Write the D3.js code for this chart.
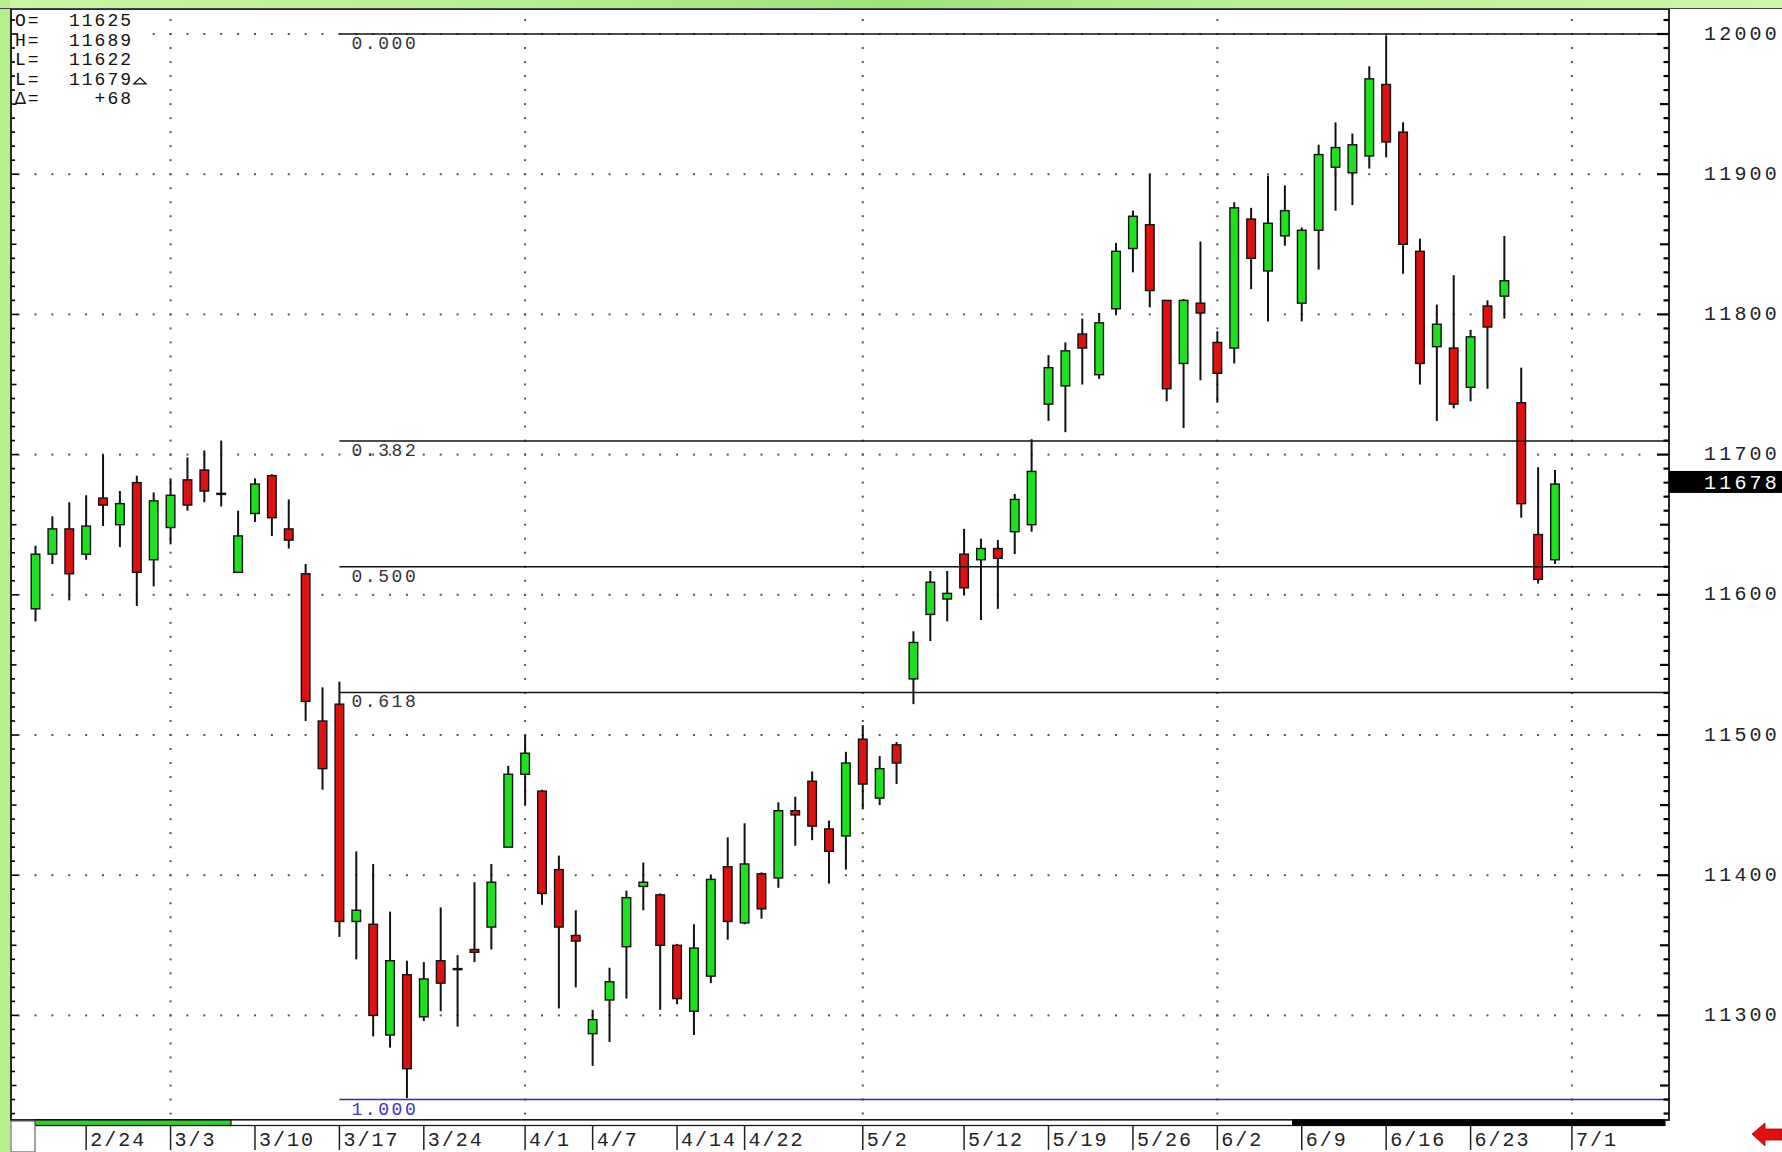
<!DOCTYPE html>
<html><head><meta charset="utf-8">
<script src="https://cdn.jsdelivr.net/npm/d3@7"></script>
<style>
body{margin:0;background:#fff;}
svg{display:block;}
text{font-family:"Liberation Mono","DejaVu Sans Mono",monospace;}
</style>
</head><body>
<svg id="c" width="1782" height="1152"></svg>
<script>
// ---------- data ----------
const opens  = [11590,11629,11647,11629,11669,11650,11680,11625,11648,11682,11689,11672,11616,11658,11685,11647,11615,11510,11522,11367,
                11365,11286,11329,11299,11339,11333,11347,11363,11420,11472,11460,11404,11357,11287,11311,11349,11392,11386,11350,11303,
                11328,11406,11366,11401,11398,11446,11467,11433,11428,11497,11455,11493,11540,11586,11597,11629,11625,11633,11645,11650,
                11736,11749,11786,11757,11804,11847,11864,11810,11765,11808,11780,11776,11868,11831,11856,11808,11860,11905,11901,11913,
                11964,11930,11845,11777,11776,11748,11806,11813,11737,11643,11625];
const highs  = [11635,11656,11666,11671,11700,11674,11685,11673,11683,11698,11703,11710,11660,11683,11686,11668,11622,11534,11538,11417,
                11408,11374,11339,11338,11377,11343,11395,11408,11478,11500,11461,11414,11375,11304,11334,11389,11409,11387,11351,11365,
                11400,11427,11437,11402,11452,11456,11474,11439,11488,11507,11485,11495,11574,11617,11617,11647,11640,11639,11672,11711,
                11771,11780,11797,11801,11851,11874,11900,11810,11811,11852,11788,11880,11876,11899,11892,11862,11921,11937,11929,11977,
                11999,11937,11854,11807,11828,11789,11810,11856,11762,11691,11689];
const lows   = [11581,11622,11596,11625,11649,11634,11592,11606,11636,11660,11666,11663,11616,11652,11642,11633,11510,11461,11356,11340,
                11285,11277,11241,11296,11303,11292,11338,11347,11420,11450,11379,11305,11320,11264,11281,11312,11375,11304,11308,11286,
                11323,11354,11365,11369,11391,11421,11425,11394,11404,11447,11450,11465,11522,11567,11581,11600,11582,11590,11629,11645,
                11724,11716,11750,11754,11800,11830,11805,11738,11719,11753,11737,11765,11818,11795,11849,11795,11832,11874,11878,11904,
                11912,11829,11750,11724,11733,11738,11747,11797,11655,11608,11622];
const closes = [11629,11647,11615,11649,11664,11665,11616,11667,11671,11664,11674,11672,11642,11679,11655,11639,11524,11476,11367,11375,
                11300,11339,11262,11326,11323,11333,11345,11395,11472,11487,11387,11363,11353,11297,11324,11384,11395,11350,11312,11348,
                11397,11367,11408,11376,11446,11443,11435,11417,11480,11465,11476,11480,11566,11609,11601,11605,11633,11626,11668,11688,
                11762,11774,11776,11794,11845,11870,11817,11747,11810,11801,11758,11876,11840,11865,11874,11860,11914,11919,11921,11968,
                11923,11850,11765,11793,11736,11784,11791,11824,11665,11611,11679];

const dateLabels = ["2/24","3/3","3/10","3/17","3/24","4/1","4/7","4/14","4/22","5/2","5/12","5/19","5/26","6/2","6/9","6/16","6/23","7/1"];
const dateIdx    = [3,8,13,18,23,29,33,38,42,49,55,60,65,70,75,80,85,91];
const monthIdx   = [8,29,49,70,91];
const yTicks     = [11300,11400,11500,11600,11700,11800,11900,12000];
const fibLevels  = [0,0.382,0.5,0.618,1];
const fibLabels  = ["0.000","0.382","0.500","0.618","1.000"];
const fibHigh = 12000, fibLow = 11240, fibStartIdx = 18;
const infoKeys   = ["O=","H=","L=","L=","\u0394="];
const infoVals   = ["11625","11689","11622","11679","+68"];
const lastPrice  = 11678;

// ---------- layout ----------
const W = 1782, H = 1152;
const L = 11, R = 1669, T = 9, B = 1120;
const svg = d3.select("#c");
const x = d3.scaleLinear().domain([0, 90]).range([35.5, 1555]);
const y = d3.scaleLinear().domain([11300, 12000]).range([1015.4, 34]);

const defs = svg.append("defs");
const g1 = defs.append("linearGradient").attr("id","topg").attr("x1","0").attr("x2","1").attr("y1","0").attr("y2","0");
[[0,"#c9f6a2"],[0.3,"#b4ee8e"],[0.5,"#9fe27a"],[0.7,"#b8f092"],[1,"#cdf7a8"]].forEach(s=>g1.append("stop").attr("offset",s[0]).attr("stop-color",s[1]));

svg.append("rect").attr("width",W).attr("height",H).attr("fill","#fff");
svg.append("rect").attr("x",0).attr("y",0).attr("width",W).attr("height",T).attr("fill","url(#topg)");
svg.append("rect").attr("x",0).attr("y",0).attr("width",L-1).attr("height",H).attr("fill","#b6ed8f");

// grid dots
const gridG = svg.append("g").attr("fill","#555");
const idxRange = d3.range(-1, 96);
yTicks.forEach(v => {
  gridG.selectAll(null).data(idxRange).enter().append("rect")
    .attr("x", i => x(i) - 1).attr("y", y(v) - 1).attr("width", 2).attr("height", 2);
});
const vVals = d3.range(11230, 12011, 10);
monthIdx.forEach(m => {
  gridG.selectAll(null).data(vVals).enter().append("rect")
    .attr("x", x(m) - 1).attr("y", v => y(v) - 1).attr("width", 2).attr("height", 2);
});

// info box background
svg.append("rect").attr("x",L+1).attr("y",T+1).attr("width",139).attr("height",100).attr("fill","#fff");

// candles
const cg = svg.append("g");
const n = opens.length;
const idx = d3.range(n);
cg.selectAll("line.wick").data(idx).enter().append("line")
  .attr("x1", i => x(i)).attr("x2", i => x(i))
  .attr("y1", i => y(highs[i])).attr("y2", i => y(lows[i]))
  .attr("stroke", "#111").attr("stroke-width", 2);
cg.selectAll("rect.body").data(idx.filter(i => opens[i] !== closes[i])).enter().append("rect")
  .attr("x", i => x(i) - 4.3).attr("width", 8.6)
  .attr("y", i => y(Math.max(opens[i], closes[i])))
  .attr("height", i => Math.max(1.5, Math.abs(y(opens[i]) - y(closes[i]))))
  .attr("fill", i => closes[i] > opens[i] ? "#1fe01f" : "#dc1212")
  .attr("stroke", "#111").attr("stroke-width", 1.4);
cg.selectAll("line.doji").data(idx.filter(i => opens[i] === closes[i])).enter().append("line")
  .attr("x1", i => x(i) - 5).attr("x2", i => x(i) + 5)
  .attr("y1", i => y(opens[i])).attr("y2", i => y(opens[i]))
  .attr("stroke", "#111").attr("stroke-width", 2.5);

// fib lines
const fg = svg.append("g");
fibLevels.forEach((lv, k) => {
  const v = fibHigh - lv * (fibHigh - fibLow);
  const col = lv === 1 ? "#2b2bb5" : "#111";
  fg.append("line").attr("x1", x(fibStartIdx)).attr("x2", R).attr("y1", y(v)).attr("y2", y(v))
    .attr("stroke", col).attr("stroke-width", lv === 1 ? 1.6 : 1.5);
  fg.append("text").attr("x", x(fibStartIdx) + 12).attr("y", y(v) + 15)
    .attr("font-size", 18).attr("letter-spacing", 2.6)
    .attr("fill", lv === 1 ? "#3535c8" : "#333").text(fibLabels[k]);
});

// frame
svg.append("rect").attr("x",L).attr("y",T).attr("width",R-L).attr("height",B-T)
  .attr("fill","none").attr("stroke","#111").attr("stroke-width",1.8);
svg.append("line").attr("x1",0).attr("x2",W).attr("y1",T-0.5).attr("y2",T-0.5).attr("stroke","#445").attr("stroke-width",1);

// axis ticks (right and left)
const tg = svg.append("g").attr("stroke","#000").attr("stroke-width",2.2);
vVals.forEach(v => {
  const len = v % 100 === 0 ? 12 : (v % 50 === 0 ? 9 : 5.5);
  tg.append("line").attr("x1", R - len).attr("x2", R).attr("y1", y(v)).attr("y2", y(v));
  const ll = v % 100 === 0 ? 7 : (v % 50 === 0 ? 5.5 : 4);
  tg.append("line").attr("x1", L).attr("x2", L + ll).attr("y1", y(v)).attr("y2", y(v)).attr("stroke-width", 1.6);
});

// right labels
svg.append("g").selectAll("text").data(yTicks).enter().append("text")
  .attr("x", 1704).attr("y", v => y(v) + 5.5).attr("font-size", 20).attr("letter-spacing", 3.2)
  .attr("fill", "#222").text(v => v);

// last price box
svg.append("rect").attr("x", R).attr("y", y(lastPrice) - 14.5).attr("width", W - R).attr("height", 22).attr("fill", "#000");
svg.append("text").attr("x", 1704).attr("y", y(lastPrice) + 4).attr("font-size", 20).attr("letter-spacing", 3.2)
  .attr("fill", "#fff").text(lastPrice);

// info box text
const ig = svg.append("g").attr("font-size", 18).attr("fill", "#111");
infoKeys.forEach((k, j) => {
  const yy = 26 + j * 19.6;
  ig.append("text").attr("x", 15).attr("y", yy).attr("letter-spacing", 2).text(k);
  ig.append("text").attr("x", 133).attr("y", yy).attr("text-anchor", "end").attr("letter-spacing", 2).text(infoVals[j]);
});
ig.append("path").attr("d", `M134,${26+3*19.6-1} L140,${26+3*19.6-7} L146,${26+3*19.6-1} Z`)
  .attr("fill", "none").attr("stroke", "#111").attr("stroke-width", 1.3);

// scroll bar
svg.append("rect").attr("x", 35).attr("y", 1120).attr("width", 1630).attr("height", 5.5).attr("fill", "#fff").attr("stroke", "#111").attr("stroke-width", 1.2);
svg.append("rect").attr("x", 35).attr("y", 1120).attr("width", 196).attr("height", 5.5).attr("fill", "#33cc33").attr("stroke", "#111").attr("stroke-width", 1.2);
svg.append("rect").attr("x", 1292).attr("y", 1119.5).attr("width", 373).attr("height", 6.5).attr("fill", "#000");
// bottom-left box
svg.append("rect").attr("x", 11).attr("y", 1121).attr("width", 24).attr("height", 31).attr("fill", "#fff").attr("stroke", "#666").attr("stroke-width", 1.2);

// date labels
const dg = svg.append("g");
dg.selectAll("line").data(dateIdx).enter().append("line")
  .attr("x1", i => x(i)).attr("x2", i => x(i)).attr("y1", 1126).attr("y2", 1150)
  .attr("stroke", "#222").attr("stroke-width", 1.5);
dg.selectAll("text").data(dateIdx).enter().append("text")
  .attr("x", i => x(i) + 4).attr("y", 1146).attr("font-size", 20).attr("letter-spacing", 2)
  .attr("fill", "#222").text((i, k) => dateLabels[k]);

// red arrow
svg.append("path").attr("d", "M1752,1134 L1765,1123 L1765,1129 L1782,1129 L1782,1140 L1765,1140 L1765,1146 Z")
  .attr("fill", "#e01010").attr("stroke", "#a00").attr("stroke-width", 0.8);
</script>
</body></html>
